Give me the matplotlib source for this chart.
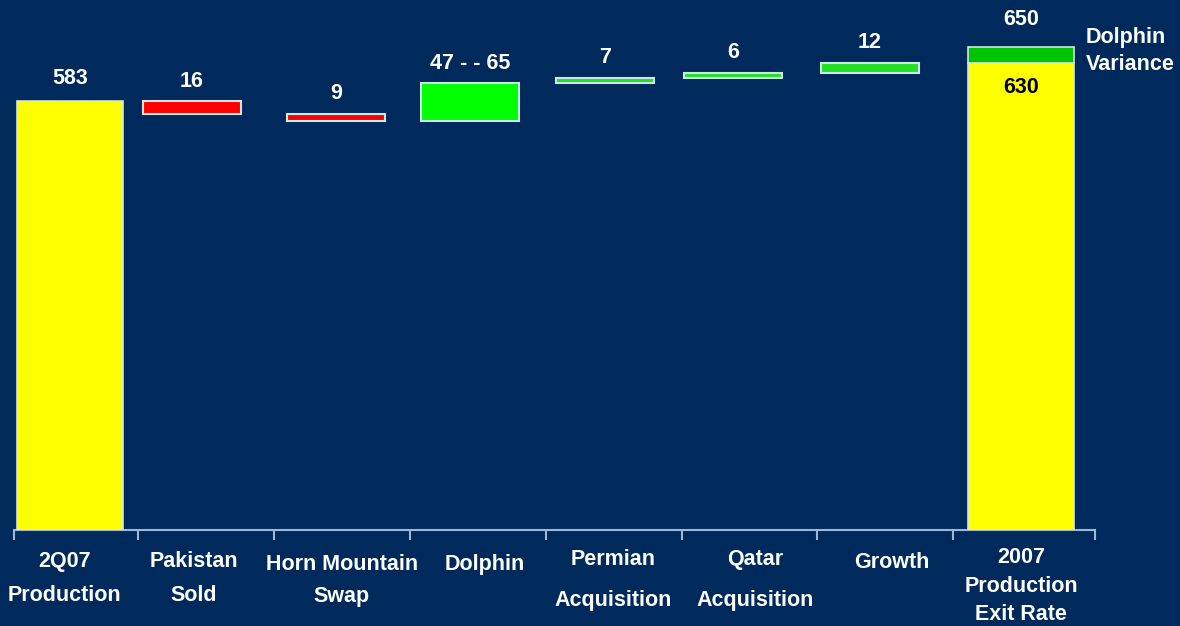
import matplotlib
matplotlib.use("Agg")
import matplotlib.pyplot as plt
import numpy as np

# ------------------------------------------------------------------
# Data (MBOE/D waterfall, 2Q07 -> 2007 exit rate)
# ------------------------------------------------------------------
categories = ["2Q07\nProduction", "Pakistan\nSold", "Horn Mountain\nSwap", "Dolphin",
              "Permian\nAcquisition", "Qatar\nAcquisition", "Growth",
              "2007\nProduction\nExit Rate"]
start_value = 583
changes = [-16, -9, 47, 7, 6, 12]
change_labels = ["16", "9", "47 - - 65", "7", "6", "12"]
exit_value = 630
dolphin_variance = 20
exit_high = 650

# layout: bar slots are not evenly spaced in the original slide
bar_x = [0, 0.898, 1.957, 2.943, 3.937, 4.879, 5.887, 7]
label_x = [-0.04, 0.91, 2.0, 3.05, 4.0, 5.04, 6.05, 7]

BG = "#002a5c"
YELLOW = "#ffff00"
RED = "#ff0000"
GREEN_BIG = "#00ff00"
GREEN_SMALL = "#22e022"
GREEN_VAR = "#00c400"
EDGE = "#cfe6e6"
AXIS = "#9fb7d6"
FS = 15.5

plt.rcParams["font.family"] = ["Liberation Sans", "DejaVu Sans"]
plt.rcParams["font.weight"] = "bold"

fig = plt.figure(figsize=(11.8, 6.26), dpi=100, facecolor=BG)
ax = fig.add_axes([0, 96 / 626, 1, 530 / 626])
ax.set_facecolor(BG)
ax.set_xlim(-0.515, 8.168)
ax.set_ylim(53, 708)

# first bar
ax.bar(bar_x[0], start_value, width=0.78, color=YELLOW, edgecolor=EDGE, linewidth=1.2, zorder=3)
ax.annotate(str(start_value), (bar_x[0], start_value), xytext=(0, 16), textcoords="offset points",
            ha="center", va="center", color="white", fontsize=FS, fontweight="bold")

# floating change bars
level = start_value
for i, (d, lab) in enumerate(zip(changes, change_labels), start=1):
    bottom = level + min(d, 0)
    top = level + max(d, 0)
    if d < 0:
        col = RED
    elif d > 20:
        col = GREEN_BIG
    else:
        col = GREEN_SMALL
    ax.bar(bar_x[i], top - bottom, bottom=bottom, width=0.715, color=col,
           edgecolor=EDGE, linewidth=1.5, zorder=3)
    ax.annotate(lab, (bar_x[i], top), xytext=(0, 14.5), textcoords="offset points",
                ha="center", va="center", color="white", fontsize=FS, fontweight="bold")
    level += d

# exit rate bar with dolphin variance on top
last = len(categories) - 1
ax.bar(bar_x[last], exit_value, width=0.78, color=YELLOW, edgecolor=EDGE, linewidth=1.2, zorder=3)
ax.bar(bar_x[last], dolphin_variance, bottom=exit_value, width=0.78, color=GREEN_VAR,
       edgecolor=EDGE, linewidth=1.2, zorder=3)
ax.annotate(str(exit_high), (bar_x[last], exit_high), xytext=(0, 20), textcoords="offset points",
            ha="center", va="center", color="white", fontsize=FS, fontweight="bold")
ax.annotate(str(exit_value), (bar_x[last], exit_value), xytext=(0, -17.5), textcoords="offset points",
            ha="center", va="center", color="black", fontsize=FS, fontweight="bold")
ax.annotate("Dolphin\nVariance", (bar_x[last] + 0.39, exit_value + dolphin_variance / 2),
            xytext=(8, 3), textcoords="offset points", ha="left", va="center",
            color="white", fontsize=FS, fontweight="bold", linespacing=1.4)

# axis: bottom line only, ticks between categories
for s in ["top", "right", "left"]:
    ax.spines[s].set_visible(False)
ax.spines["bottom"].set_color(AXIS)
ax.spines["bottom"].set_linewidth(1.5)
ax.spines["bottom"].set_bounds(-0.41, 7.54)
ax.set_yticks([])
ax.set_xticks([-0.41] + [i + 0.5 for i in range(7)] + [7.54])
ax.set_xticklabels([])
ax.tick_params(axis="x", colors=AXIS, length=7, width=1.5, direction="out")

# category labels
label_spacing = [1.79, 1.79, 1.7, 1.0, 2.28, 2.28, 1.0, 1.44]
label_top = [-0.040, -0.040, -0.045, -0.045, -0.035, -0.035, -0.041, -0.033]
for x, name, ls, yt in zip(label_x, categories, label_spacing, label_top):
    ax.text(x, yt, name, transform=ax.get_xaxis_transform(), ha="center", va="top",
            color="white", fontsize=FS, fontweight="bold", linespacing=ls)

fig.savefig("out.png", dpi=100, facecolor=BG)
